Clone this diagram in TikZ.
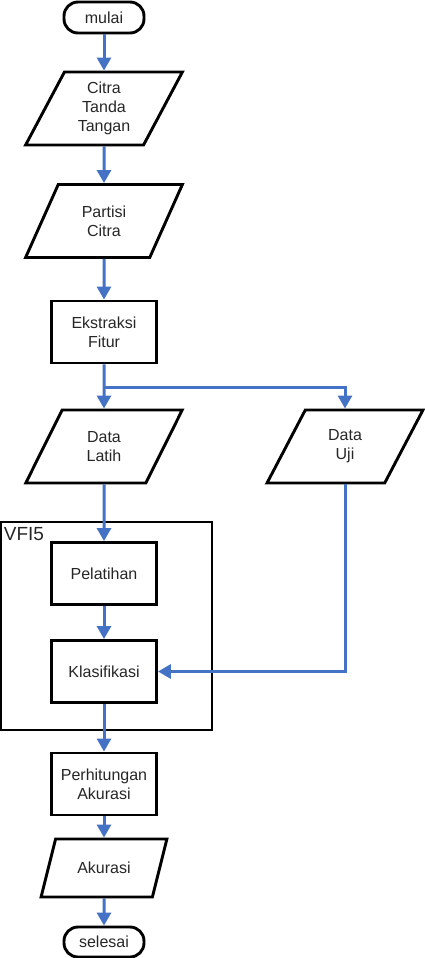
\documentclass[tikz,border=0pt]{standalone}
\usepackage{fontspec}
\setmainfont{Liberation Sans}
\usetikzlibrary{shapes.geometric, arrows.meta}
\definecolor{flowblue}{RGB}{68,114,196}
\tikzstyle{startstop} = [rectangle, rounded corners=14pt, minimum width=80pt, minimum height=31pt, text centered, draw=black, line width=2.9pt]
\tikzstyle{io} = [trapezium, trapezium left angle=64, trapezium right angle=116, trapezium stretches=true, minimum width=157pt, minimum height=73pt, text centered, align=center, draw=black, line width=2.9pt]
\tikzstyle{process} = [rectangle, minimum width=105pt, minimum height=62pt, text centered, align=center, draw=black, line width=2.9pt]
\tikzstyle{arrow} = [line width=3pt, draw=flowblue, -{Triangle[width=14pt,length=13pt]}]

\begin{document}
\begin{tikzpicture}[font=\fontsize{16pt}{19pt}\selectfont, text=black!85]
	\useasboundingbox (0,0) rectangle (424pt,-958pt);

		\node (start) [startstop] at (104pt,-17.5pt) {mulai};

		\node (citra) [io, below of=start, node distance=91pt] {Citra\\Tanda\\Tangan};
		\node (partisi) [io, below of=citra, node distance=112.5pt] {Partisi\\Citra};
		\node (ekstraksi) [process, below of=partisi, node distance=111pt] {Ekstraksi\\Fitur};
		\node (latih) [io, below of=ekstraksi, node distance=114.5pt] {Data\\Latih};
		\node (uji) [io, right of=latih, node distance=241pt] {Data\\Uji};

		\node (vfi) [draw=black, line width=2.7pt, minimum width=211pt, minimum height=208pt] at (106.5pt,-626pt) {};
		\node (vfi-label) [anchor=north west, font=\fontsize{19pt}{22pt}\selectfont, inner sep=2pt] at ([xshift=2pt,yshift=-5pt]vfi.north west) {VFI5};

		\node (pelatihan) [process, below of=latih, node distance=127pt] {Pelatihan};
		\node (klasifikasi) [process, below of=pelatihan, node distance=98pt] {Klasifikasi};
		\node (akurasi-hitung) [process, below of=klasifikasi, node distance=112.5pt] {Perhitungan\\Akurasi};
		\node (akurasi) [io, below of=akurasi-hitung, node distance=84pt, minimum width=126pt, minimum height=58pt] {Akurasi};
		\node (stop) [startstop, below of=akurasi, node distance=74pt, minimum height=30pt] {selesai};

		\coordinate (split) at (104pt,-387pt);

		\draw[arrow] (start) -- (citra);
		\draw[arrow] (citra) -- (partisi);
		\draw[arrow] (partisi) -- (ekstraksi);
		\draw[arrow] (ekstraksi) -- (latih);
		\draw[arrow] (split) -| (uji);
		\draw[arrow] (latih) -- (pelatihan);
		\draw[arrow] (pelatihan) -- (klasifikasi);
		\draw[arrow] (uji) |- (klasifikasi);
		\draw[arrow] (klasifikasi) -- (akurasi-hitung);
		\draw[arrow] (akurasi-hitung) -- (akurasi);
		\draw[arrow] (akurasi) -- (stop);
	\end{tikzpicture}
\end{document}
